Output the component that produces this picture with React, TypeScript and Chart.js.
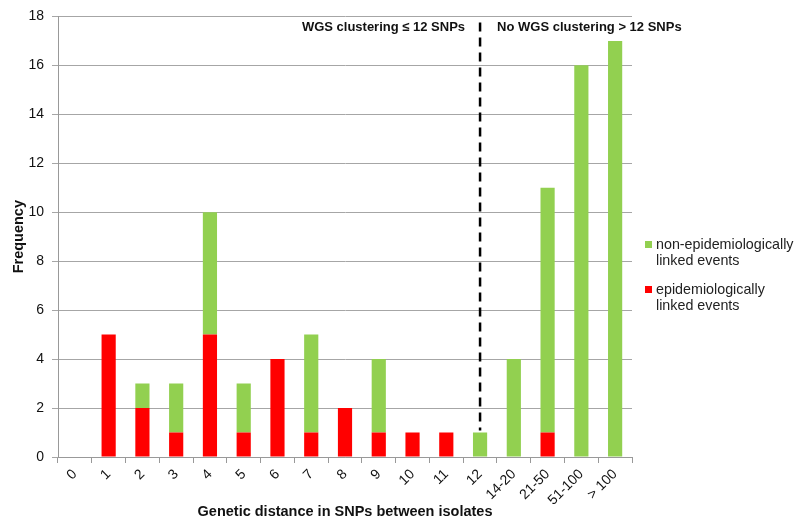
import React, { useEffect, useRef } from "react";
import { Chart, registerables } from "chart.js";

Chart.register(...registerables);

const categories = ["0", "1", "2", "3", "4", "5", "6", "7", "8", "9", "10", "11", "12", "14-20", "21-50", "51-100", "> 100"];
const epiLinked = [0, 5, 2, 1, 5, 1, 4, 1, 2, 1, 1, 1, 0, 0, 1, 0, 0];
const nonEpiLinked = [0, 0, 1, 2, 5, 2, 0, 4, 0, 3, 0, 0, 1, 4, 10, 16, 17];
const cutoffIndex = 12;
const leftNote = "WGS clustering \u2264 12 SNPs";
const rightNote = "No WGS clustering > 12 SNPs";
const legendItems = [
  { lines: ["non-epidemiologically", "linked events"], color: "#92D050" },
  { lines: ["epidemiologically", "linked events"], color: "#FF0000" },
];

const FONT = "'Liberation Sans', Arial, sans-serif";

export default function App() {
  const ref = useRef<HTMLCanvasElement | null>(null);
  useEffect(() => {
    if (!ref.current) return;
    const overlay = {
      id: "overlay",
      afterDatasetsDraw(chart: any) {
        const ctx = chart.ctx;
        const xs = chart.scales.x;
        const ys = chart.scales.y;
        const cx = xs.getPixelForValue(cutoffIndex);
        const topVal = epiLinked[cutoffIndex] + nonEpiLinked[cutoffIndex];
        ctx.save();
        ctx.strokeStyle = "#000";
        ctx.lineWidth = 2.5;
        ctx.setLineDash([9, 6]);
        ctx.beginPath();
        ctx.moveTo(cx, ys.top + 6);
        ctx.lineTo(cx, ys.getPixelForValue(topVal) - 2);
        ctx.stroke();
        ctx.setLineDash([]);
        ctx.fillStyle = "#111";
        ctx.font = `bold 13px ${FONT}`;
        ctx.textBaseline = "middle";
        ctx.textAlign = "right";
        ctx.fillText(leftNote, cx - 15, ys.top + 11);
        ctx.textAlign = "left";
        ctx.fillText(rightNote, cx + 17, ys.top + 11);

        // axis titles
        ctx.font = `bold 14.5px ${FONT}`;
        ctx.textAlign = "center";
        ctx.fillText("Genetic distance in SNPs between isolates", (chart.chartArea.left + chart.chartArea.right) / 2, 512);
        ctx.save();
        ctx.translate(19, (ys.top + ys.bottom) / 2);
        ctx.rotate(-Math.PI / 2);
        ctx.fillText("Frequency", 0, 0);
        ctx.restore();

        // legend
        ctx.font = `14.3px ${FONT}`;
        ctx.textAlign = "left";
        const lx = 645;
        let ly = 245;
        legendItems.forEach((it) => {
          ctx.fillStyle = it.color;
          ctx.fillRect(lx, ly - 4, 7, 7);
          ctx.fillStyle = "#222";
          it.lines.forEach((ln, i) => ctx.fillText(ln, lx + 11, ly + i * 16));
          ly += 45;
        });
        ctx.restore();
      },
    };
    const chart = new Chart(ref.current, {
      type: "bar",
      data: {
        labels: categories,
        datasets: [
          { label: "epidemiologically linked events", data: epiLinked, backgroundColor: "#FF0000", barPercentage: 0.42, categoryPercentage: 1 },
          { label: "non-epidemiologically linked events", data: nonEpiLinked, backgroundColor: "#92D050", barPercentage: 0.42, categoryPercentage: 1 },
        ],
      },
      options: {
        animation: false,
        responsive: false,
        maintainAspectRatio: false,
        layout: { padding: { left: 0, top: 14, right: 168, bottom: 0 } },
        plugins: { legend: { display: false }, tooltip: { enabled: false } },
        scales: {
          x: {
            stacked: true,
            afterFit: (s: any) => { s.height = 66; },
            grid: { display: true, drawOnChartArea: false, drawTicks: true, tickLength: 6, offset: true, color: "#999" },
            border: { display: true, color: "#999" },
            ticks: { minRotation: 45, maxRotation: 45, autoSkip: false, color: "#111", font: { family: FONT, size: 14 }, padding: 3 },
          },
          y: {
            stacked: true,
            min: 0,
            max: 18,
            afterFit: (s: any) => { s.width = 58; },
            grid: { color: "#A6A6A6", tickLength: 6 },
            border: { display: true, color: "#999" },
            ticks: { stepSize: 2, color: "#111", font: { family: FONT, size: 14 }, padding: 8 },
          },
        },
      },
      plugins: [overlay],
    });
    return () => chart.destroy();
  }, []);
  return (
    <div style={{ position: "fixed", left: 0, top: 0, width: 800, height: 523, background: "#fff" }}>
      <canvas ref={ref} width={800} height={523} />
    </div>
  );
}
